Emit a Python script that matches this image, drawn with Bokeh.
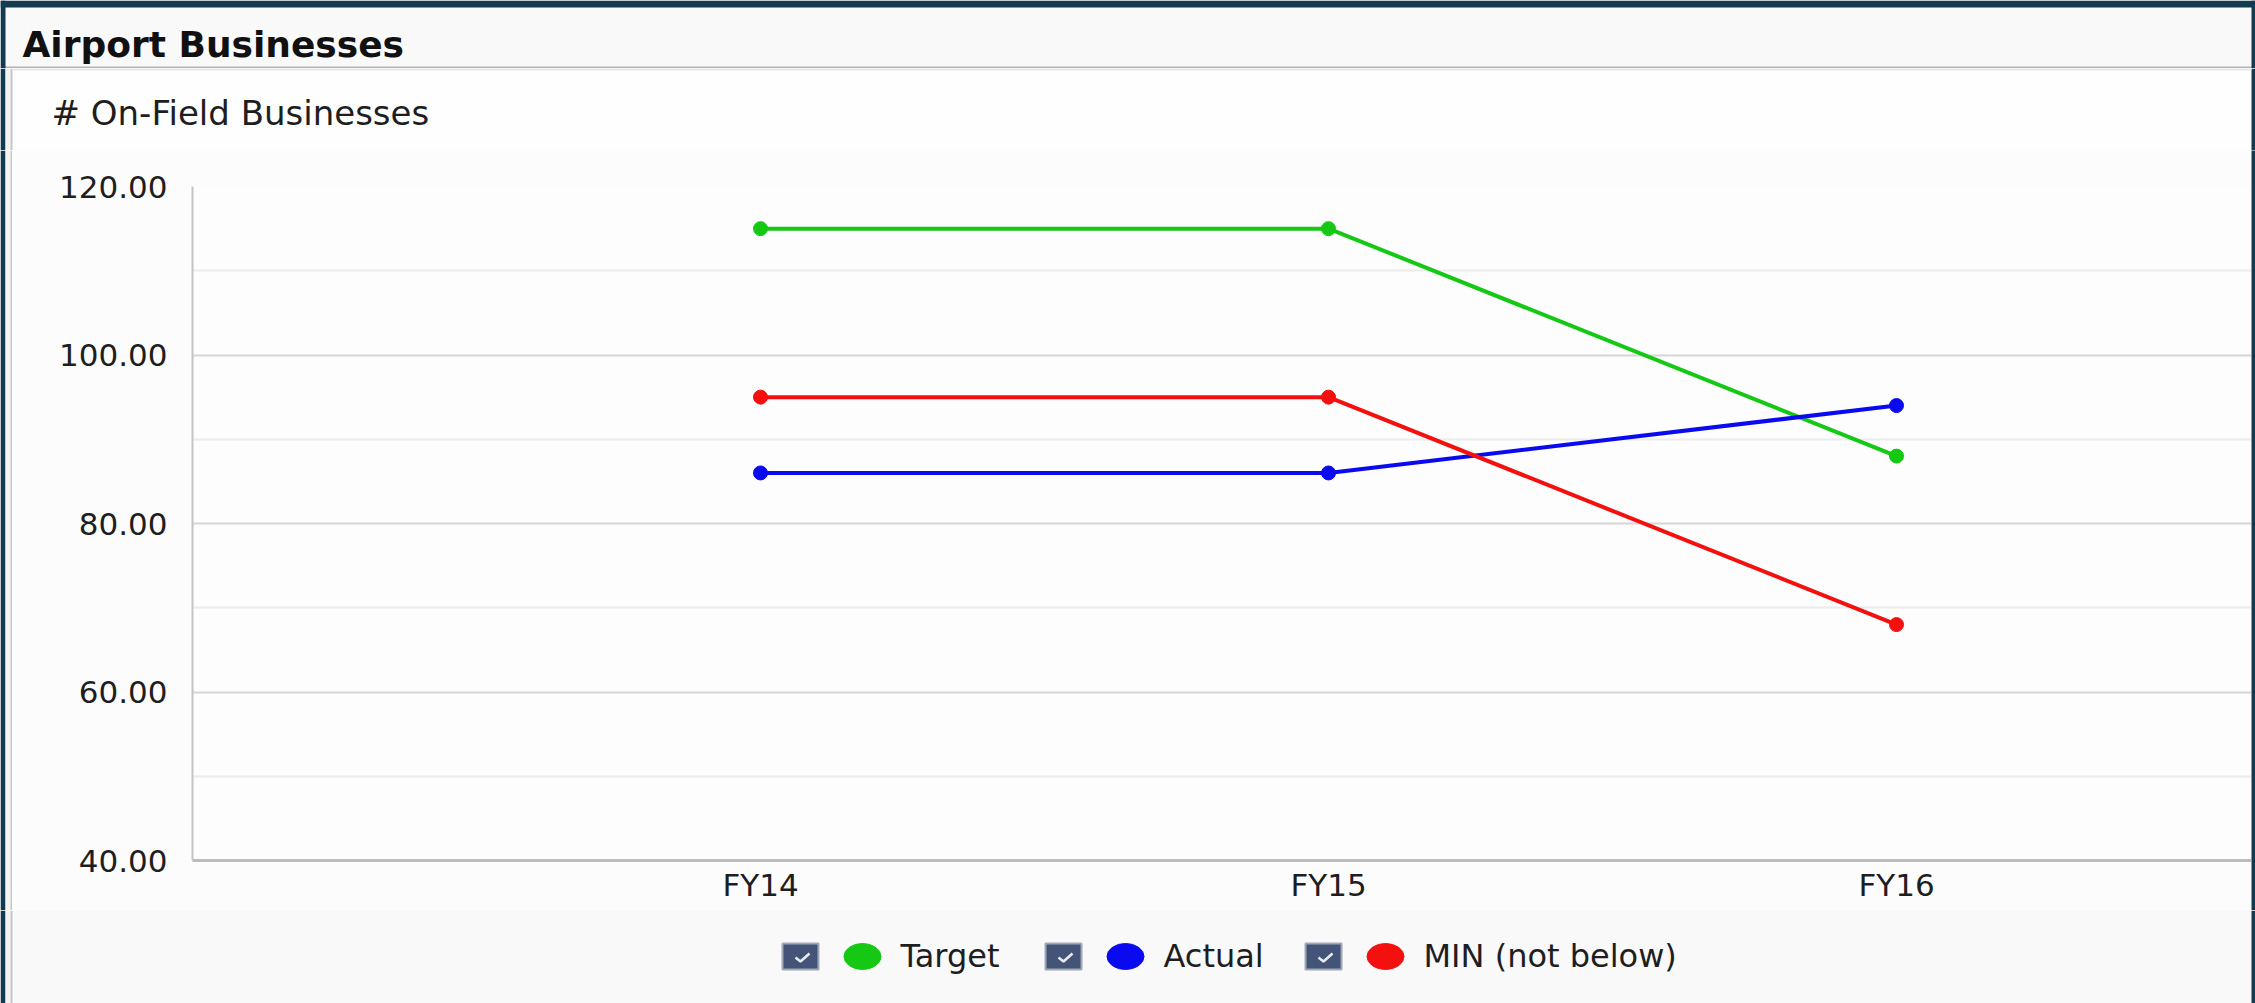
from bokeh.plotting import figure
from bokeh.layouts import column, row
from bokeh.models import Range1d, FixedTicker, NumeralTickFormatter
from bokeh.core.properties import value
from bokeh.embed import file_html
from bokeh.resources import INLINE

# ---------------- data ----------------
chart_title = "Airport Businesses"
y_title = "# On-Field Businesses"
categories = ["FY14", "FY15", "FY16"]
series_names = ["Target", "Actual", "MIN (not below)"]
target = [115, 115, 88]
actual = [86, 86, 94]
minimum = [95, 95, 68]
series_colors = ["#14c814", "#0a0af0", "#f51010"]
y_ticks = [40, 60, 80, 100, 120]
y_minor_ticks = [50, 70, 90, 110]

series_values = [target, actual, minimum]

# ---------------- style / layout ----------------
W = 2255
FONT = "DejaVu Sans"
TXT = "#1e1e1e"
DARK = "#123a50"
LEFT_W, RIGHT_W = 12, 4          # decorative side columns beside the chart
FR_L, FR_R = 192, 2251           # frame left / right (page px)
X_END = 3.625


def pixel_fig(width, height, bg):
    f = figure(width=width, height=height, x_range=Range1d(0, width), y_range=Range1d(height, 0),
               toolbar_location=None, output_backend="svg", min_border=0,
               x_axis_location=None, y_axis_location=None)
    f.frame_align = False
    f.grid.visible = False
    f.outline_line_color = None
    f.background_fill_color = bg
    f.border_fill_color = bg
    return f


def rectpx(fig, l, r, t, b, color):
    fig.quad(left=l, right=r, top=t, bottom=b, fill_color=color, line_color=None)


def side_strips(fig, height, width=W):
    rectpx(fig, 0, 5, 0, height, DARK)
    rectpx(fig, width - 4, width, 0, height, DARK)


def panel_edge(fig, height):
    rectpx(fig, 5, 10, 0, height, "#f3f3f3")
    rectpx(fig, 10, 12, 0, height, "#c6c6c6")


# ---------------- header: title bar ----------------
HH = 68
h = pixel_fig(W, HH, "#f9f9f9")
rectpx(h, 0, W, 0, 7, DARK)
rectpx(h, 0, W, 66, 68, "#b3b3b3")
side_strips(h, HH)
h.text(x=[22], y=[44], text=[chart_title], text_font=value(FONT), text_font_size="36px",
       text_font_style="bold", text_color="#111111", text_baseline="middle",
       text_align="left")

# ---------------- subtitle row ----------------
SH = 82
s = pixel_fig(W, SH, "#fefefe")
side_strips(s, SH)
panel_edge(s, SH)
rectpx(s, 12, W - 4, 0, 2, "#e6e6e6")
s.text(x=[51], y=[44], text=[y_title], text_font=value(FONT), text_font_size="34px",
       text_color=TXT, text_baseline="middle", text_align="left")

# ---------------- main chart ----------------
MH = 760
M_TOP = HH + SH
FR_T, FR_B = 186, 860
BODY = "#fcfcfc"
xs = list(range(1, len(categories) + 1))
p = figure(width=FR_R - LEFT_W, height=MH, x_range=Range1d(0, X_END), y_range=Range1d(40, 120),
           toolbar_location=None, output_backend="svg",
           min_border_left=FR_L - LEFT_W, min_border_right=0,
           min_border_top=FR_T - M_TOP, min_border_bottom=M_TOP + MH - FR_B)
p.frame_align = False
p.outline_line_color = None
p.background_fill_color = "#fdfdfd"
p.border_fill_color = BODY

for vals, color in zip(series_values, series_colors):
    p.line(xs, vals, line_color=color, line_width=4)
    p.scatter(xs, vals, size=14, fill_color=color, line_color=color)

p.yaxis.ticker = FixedTicker(ticks=y_ticks, minor_ticks=y_minor_ticks)
p.yaxis.formatter = NumeralTickFormatter(format="0.00")
p.yaxis.major_label_text_font = FONT
p.yaxis.major_label_text_font_size = "31px"
p.yaxis.major_label_text_color = TXT
p.yaxis.major_label_standoff = 19
p.yaxis.major_tick_line_color = None
p.yaxis.minor_tick_line_color = None
p.yaxis.axis_line_color = "#c4c4c4"
p.yaxis.axis_line_width = 2

p.xaxis.ticker = FixedTicker(ticks=xs)
p.xaxis.major_label_overrides = {x: c for x, c in zip(xs, categories)}
p.xaxis.major_label_text_font = FONT
p.xaxis.major_label_text_font_size = "31px"
p.xaxis.major_label_text_color = TXT
p.xaxis.major_label_standoff = 0
p.xaxis.major_tick_line_color = None
p.xaxis.minor_tick_line_color = None
p.xaxis.axis_line_color = "#bcbcbc"
p.xaxis.axis_line_width = 3

p.xgrid.visible = False
p.ygrid.grid_line_color = "#d6d6d6"
p.ygrid.grid_line_width = 2
p.ygrid.minor_grid_line_color = "#ececec"
p.ygrid.minor_grid_line_width = 2

left_deco = pixel_fig(LEFT_W, MH, BODY)
rectpx(left_deco, 0, 5, 0, MH, DARK)
panel_edge(left_deco, MH)
right_deco = pixel_fig(RIGHT_W, MH, DARK)

# ---------------- legend row ----------------
LH = 1003 - M_TOP - MH
lg = pixel_fig(W, LH, "#f9f9f9")
side_strips(lg, LH)
panel_edge(lg, LH)

box_x = [800, 1063, 1323]
cy = 46
lg.rect(x=box_x, y=[cy] * 3, width=36, height=26, fill_color="#435478",
        line_color="#a0a8b5", line_width=2)
lg.multi_line(xs=[[bx - 5, bx, bx + 9] for bx in box_x],
              ys=[[cy + 1, cy + 5, cy - 3] for _ in box_x],
              line_color="#e8ebf0", line_width=2.5)
lg.ellipse(x=[bx + 62 for bx in box_x], y=[cy] * 3, width=37, height=26,
           fill_color=series_colors, line_color=series_colors)
lg.text(x=[bx + 100 for bx in box_x], y=[cy - 1] * 3, text=series_names,
        text_font=value(FONT), text_font_size="32px", text_color=TXT,
        text_baseline="middle", text_align="left")

layout = column(h, s, row(left_deco, p, right_deco, spacing=0), lg, spacing=0)
open("out.html", "w").write(file_html(layout, INLINE))
